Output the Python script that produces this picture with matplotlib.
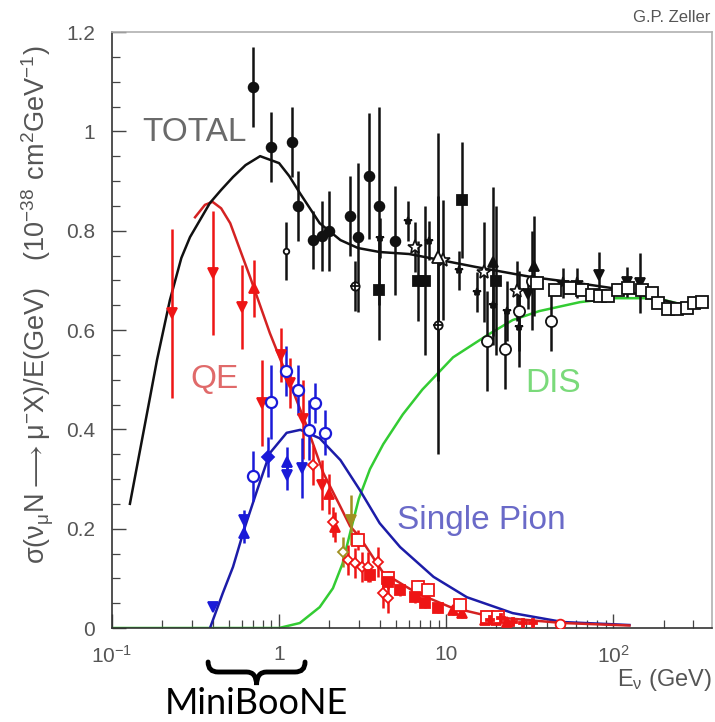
import matplotlib
matplotlib.use("Agg")
import matplotlib.pyplot as plt
import numpy as np
from matplotlib.path import Path
from matplotlib.patches import PathPatch

plt.rcParams['font.family'] = ['Liberation Sans', 'DejaVu Sans']
plt.rcParams['mathtext.default'] = 'regular'

# ---------------- model curves ----------------
total_E = [0.128, 0.169, 0.186, 0.222, 0.26, 0.293, 0.386, 0.45, 0.53, 0.63, 0.77, 1.0, 1.15, 1.33, 1.75, 2.33, 2.97, 4.0, 6.0, 9.2, 15, 32, 60, 100, 150, 300]
total_s = [0.25, 0.465, 0.54, 0.66, 0.745, 0.787, 0.856, 0.882, 0.908, 0.932, 0.950, 0.936, 0.91, 0.876, 0.815, 0.781, 0.765, 0.757, 0.753, 0.741, 0.727, 0.707, 0.695, 0.684, 0.670, 0.646]

qe_E = [0.314, 0.36, 0.40, 0.45, 0.51, 0.67, 0.88, 1.17, 1.47, 1.84, 2.33, 2.66, 3.04, 4.2, 6.7, 10.6, 19, 50, 125]
qe_s = [0.827, 0.852, 0.858, 0.845, 0.815, 0.707, 0.594, 0.49, 0.405, 0.312, 0.244, 0.205, 0.183, 0.111, 0.070, 0.042, 0.022, 0.010, 0.005]

pi_E = [0.386, 0.46, 0.53, 0.62, 0.74, 0.88, 1.11, 1.34, 1.75, 2.33, 3.04, 4.0, 5.3, 8.4, 13.3, 25, 50, 125]
pi_s = [0.0, 0.07, 0.123, 0.20, 0.278, 0.352, 0.393, 0.399, 0.382, 0.338, 0.278, 0.211, 0.163, 0.103, 0.062, 0.030, 0.012, 0.006]

dis_E = [0.1, 1.0, 1.33, 1.75, 2.1, 2.4, 2.7, 3.0, 3.5, 4.2, 5.5, 7.2, 11, 17.7, 25, 36, 63, 100, 182, 300]
dis_s = [0.0, 0.0, 0.01, 0.042, 0.08, 0.13, 0.20, 0.26, 0.32, 0.37, 0.43, 0.48, 0.545, 0.59, 0.62, 0.638, 0.656, 0.664, 0.664, 0.646]

# ---------------- TOTAL data (black) ----------------
tfc_E = [0.70, 0.89, 1.19, 1.30, 1.60, 1.80, 1.99, 2.67, 2.97, 3.45, 3.96, 4.96]
tfc_s = [1.089, 0.968, 0.979, 0.85, 0.781, 0.789, 0.799, 0.83, 0.787, 0.91, 0.85, 0.78]
tfc_e = [0.08, 0.07, 0.07, 0.07, 0.058, 0.07, 0.08, 0.08, 0.15, 0.127, 0.2, 0.11]

tsc_E = [1.10]
tsc_s = [0.759]
tsc_e = [0.058]

tcp_E = [2.85, 8.9]
tcp_s = [0.689, 0.61]
tcp_e = [0.05, 0.26]

tfs_E = [3.96, 6.8, 7.5, 12.4, 20]
tfs_s = [0.68, 0.699, 0.699, 0.862, 0.699]
tfs_e = [0.1, 0.08, 0.15, 0.117, 0.15]

tst_E = [4.0, 5.9, 7.9, 12.0, 15.2, 19.0, 23.0, 27.3]
tst_s = [0.785, 0.82, 0.78, 0.72, 0.677, 0.65, 0.638, 0.606]
tst_e = [0.04, 0.04, 0.04, 0.04, 0.04, 0.08, 0.06, 0.08]

tos_E = [6.5, 9.6, 16.9, 26.5]
tos_s = [0.767, 0.741, 0.717, 0.679]
tos_e = [0.05, 0.12, 0.1, 0.06]

tot_E = [8.9]
tot_s = [0.747]
tot_e = [0.25]

tft_E = [19.0, 33.5]
tft_s = [0.737, 0.729]
tft_e = [0.15, 0.1]

tdt_E = [31, 82, 121, 144]
tdt_s = [0.672, 0.711, 0.697, 0.695]
tdt_e = [0.03, 0.046, 0.03, 0.06]

tbs_E = [50, 61]
tbs_s = [0.695, 0.695]
tbs_e = [0.03, 0.03]

toc_E = [17.6, 22.5, 27.3, 32.8, 42.6]
toc_s = [0.578, 0.561, 0.638, 0.699, 0.618]
toc_e = [0.1, 0.08, 0.08, 0.1, 0.06]

tsq_E = [35, 45, 55.3, 65.2, 74.9, 83.6, 93.3, 107, 123, 149, 171, 186, 213, 242, 277, 305, 341]
tsq_s = [0.695, 0.680, 0.684, 0.680, 0.670, 0.668, 0.668, 0.680, 0.684, 0.680, 0.674, 0.654, 0.642, 0.642, 0.644, 0.654, 0.657]
tsq_e = [0.01] * 17

# ---------------- QE data (red) ----------------
qdt_E = [0.228, 0.40, 0.60, 0.79, 1.03, 1.17, 1.39, 1.80]
qdt_s = [0.634, 0.715, 0.646, 0.453, 0.55, 0.493, 0.42, 0.288]
qdt_e = [0.17, 0.125, 0.085, 0.087, 0.055, 0.05, 0.08, 0.05]

qut_E = [0.71, 1.99, 2.16, 11.0, 12.5, 17.0, 20.0, 23.0]
qut_s = [0.684, 0.27, 0.203, 0.036, 0.030, 0.016, 0.016, 0.012]
qut_e = [0.057, 0.04, 0.03, 0.01, 0.01, 0.008, 0.008, 0.008]

qod_E = [1.59, 2.1, 2.6, 2.85, 3.13, 3.4, 3.9, 4.2, 4.5]
qod_s = [0.328, 0.213, 0.137, 0.131, 0.123, 0.123, 0.133, 0.07, 0.06]
qod_e = [0.04, 0.03, 0.03, 0.03, 0.03, 0.03, 0.03, 0.03, 0.03]

qos_E = [2.97, 4.5, 6.8, 7.8, 12.1, 17.6, 20.5]
qos_s = [0.177, 0.10, 0.082, 0.076, 0.046, 0.022, 0.022]
qos_e = [0.02, 0.015, 0.015, 0.015, 0.01, 0.008, 0.008]

qfs_E = [3.5, 4.5, 5.3, 6.5, 7.5, 8.9]
qfs_s = [0.107, 0.093, 0.077, 0.062, 0.050, 0.040]
qfs_e = [0.015, 0.015, 0.012, 0.012, 0.01, 0.01]

qcr_E = [18.4, 21.2, 25, 29, 33]
qcr_s = [0.016, 0.020, 0.012, 0.010, 0.010]
qcr_e = [0.006, 0.006, 0.006, 0.005, 0.005]

qoc_E = [48]
qoc_s = [0.008]

# olive points
olv_dt_E = [2.7]
olv_dt_s = [0.217]
olv_dt_e = [0.05]
olv_dm_E = [2.4]
olv_dm_s = [0.153]
olv_dm_e = [0.03]

# ---------------- single pion data (blue) ----------------
poc_E = [0.70, 0.89, 1.10, 1.30, 1.51, 1.64, 1.88]
poc_s = [0.306, 0.455, 0.517, 0.479, 0.399, 0.453, 0.393]
poc_e = [0.05, 0.075, 0.05, 0.05, 0.06, 0.04, 0.045]

pfd_E = [0.86]
pfd_s = [0.344]
pfd_e = [0.04]

put_E = [0.62, 1.11]
put_s = [0.191, 0.334]
put_e = [0.02, 0.03]

pdt_E = [0.40, 0.62, 1.11, 1.37]
pdt_s = [0.042, 0.217, 0.308, 0.322]
pdt_e = [0.0, 0.02, 0.03, 0.06]

# ---------------- figure ----------------
fig = plt.figure(figsize=(7.15, 7.22), dpi=100)
ax = fig.add_axes([112/715, 94/722, 600/715, 596/722])
ax.set_xscale('log')
ax.set_xlim(0.1, 390)
ax.set_ylim(0, 1.2)

BLK = '#111111'
RED = '#ee1515'
BLU = '#1a1ad8'
OLV = '#a09020'

ax.plot(dis_E, dis_s, color='#33cc33', lw=1.8, zorder=2)
ax.plot(pi_E, pi_s, color='#1c1ca8', lw=1.8, zorder=2)
ax.plot(qe_E, qe_s, color='#d42222', lw=1.8, zorder=2)
ax.plot(total_E, total_s, color='#111111', lw=1.8, zorder=2)

def eb(E, s, e, marker, color, ms=6, mfc=None, mew=1.3):
    ax.errorbar(E, s, yerr=e, fmt=marker, color=color, ecolor=color,
                elinewidth=1.8, capsize=0, ms=ms,
                mfc=(color if mfc is None else mfc), mec=color, mew=mew, zorder=3)

# TOTAL
eb(tfc_E, tfc_s, tfc_e, 'o', BLK, ms=7)
eb(tsc_E, tsc_s, tsc_e, 'o', BLK, ms=4, mfc='white')
eb(tcp_E, tcp_s, tcp_e, 'o', BLK, ms=6, mfc='white')
ax.plot(tcp_E, tcp_s, '+', color=BLK, ms=7, mew=1.3, zorder=4)
eb(tfs_E, tfs_s, tfs_e, 's', BLK, ms=6.5)
eb(tst_E, tst_s, tst_e, '*', BLK, ms=6)
eb(tos_E, tos_s, tos_e, '*', BLK, ms=10, mfc='white', mew=1.2)
eb(tot_E, tot_s, tot_e, '^', BLK, ms=8, mfc='white')
eb(tft_E, tft_s, tft_e, '^', BLK, ms=7)
eb(tdt_E, tdt_s, tdt_e, 'v', BLK, ms=7)
eb(tbs_E, tbs_s, tbs_e, '*', BLK, ms=9)
eb(toc_E, toc_s, toc_e, 'o', BLK, ms=8, mfc='white')
eb(tsq_E, tsq_s, tsq_e, 's', BLK, ms=9, mfc='white')

# QE
eb(qdt_E, qdt_s, qdt_e, 'v', RED, ms=7)
eb(qut_E, qut_s, qut_e, '^', RED, ms=7)
eb(qod_E, qod_s, qod_e, 'D', RED, ms=5, mfc='white')
eb(qos_E, qos_s, qos_e, 's', RED, ms=8, mfc='white')
eb(qfs_E, qfs_s, qfs_e, 's', RED, ms=7)
eb(qcr_E, qcr_s, qcr_e, 'P', RED, ms=6)
ax.plot(qoc_E, qoc_s, 'o', color=RED, mfc='white', ms=7, mew=1.3, zorder=3)
eb(olv_dt_E, olv_dt_s, olv_dt_e, 'v', OLV, ms=7)
eb(olv_dm_E, olv_dm_s, olv_dm_e, 'D', OLV, ms=5, mfc='white')

# single pion
eb(poc_E, poc_s, poc_e, 'o', BLU, ms=8, mfc='white', mew=1.6)
eb(pfd_E, pfd_s, pfd_e, 'D', BLU, ms=6)
eb(put_E, put_s, put_e, '^', BLU, ms=7)
eb(pdt_E, pdt_s, pdt_e, 'v', BLU, ms=7)

# curve labels
ax.text(0.151, 0.997, 'TOTAL', color='#6a6a6a', fontsize=24, va='center', ha='left')
ax.text(0.293, 0.50, 'QE', color='#e06a6a', fontsize=24, va='center', ha='left')
ax.text(29.8, 0.493, 'DIS', color='#7ada7a', fontsize=24, va='center', ha='left')
ax.text(5.1, 0.217, 'Single Pion', color='#6a6ac8', fontsize=24, va='center', ha='left')

# axes styling
for sp in ['left', 'bottom']:
    ax.spines[sp].set_color('#333333')
    ax.spines[sp].set_linewidth(1.2)
for sp in ['top', 'right']:
    ax.spines[sp].set_color('#b0b0b0')
    ax.spines[sp].set_linewidth(1.2)

ax.set_yticks([0, 0.2, 0.4, 0.6, 0.8, 1.0, 1.2])
ax.set_yticklabels(['0', '0.2', '0.4', '0.6', '0.8', '1', '1.2'])
ax.set_yticks(np.arange(0, 1.2001, 0.05), minor=True)
ax.set_xticks([0.1, 1, 10, 100])
ax.set_xticklabels([r'$\mathregular{10^{-1}}$', '1', '10', r'$\mathregular{10^{2}}$'])
ax.tick_params(which='both', direction='in', top=False, right=False,
               labelsize=15, labelcolor='#555555', color='#444444', pad=12)
ax.tick_params(which='major', length=10, width=1.0)
ax.tick_params(which='minor', length=6, width=0.9)

ax.text(1.0, -0.087, r'$E_{\nu}$ (GeV)', transform=ax.transAxes, ha='right', va='center',
        fontsize=17, color='#555555')

fig.text(38/715, 1 - 305/722,
         r'$\sigma(\nu_{\mu}N \longrightarrow \mu^{-}X)/E(GeV)\ \ \ (10^{-38}\ cm^{2}GeV^{-1})$',
         rotation=90, ha='center', va='center', fontsize=19.5, color='#555555')

fig.text(710/715, 1 - 17/722, 'G.P. Zeller', ha='right', va='center', fontsize=12, color='#555555')

# MiniBooNE brace
def fx(E):
    disp = ax.transData.transform((E, 0.5))
    return fig.transFigure.inverted().transform(disp)[0]

x0, x1 = fx(0.376), fx(1.43)
xc = 0.5 * (x0 + x1)
yt, ym, yb = 1 - 662/722, 1 - 672/722, 1 - 685/722
r = 10/715
verts = [(x0, yt), (x0, ym), (x0 + r, ym),
         (xc - r, ym),
         (xc, ym), (xc, yb),
         (xc, ym), (xc + r, ym),
         (x1 - r, ym),
         (x1, ym), (x1, yt)]
codes = [Path.MOVETO, Path.CURVE3, Path.CURVE3,
         Path.LINETO,
         Path.CURVE3, Path.CURVE3,
         Path.CURVE3, Path.CURVE3,
         Path.LINETO,
         Path.CURVE3, Path.CURVE3]
fig.patches.append(PathPatch(Path(verts, codes), transform=fig.transFigure,
                             fill=False, lw=3.5, edgecolor='black', capstyle='round'))
fig.text(xc, 1 - 703/722, 'MiniBooNE', family=['Lato', 'DejaVu Sans'], fontsize=26,
         ha='center', va='center', color='black')

fig.savefig('out.png', dpi=100)
